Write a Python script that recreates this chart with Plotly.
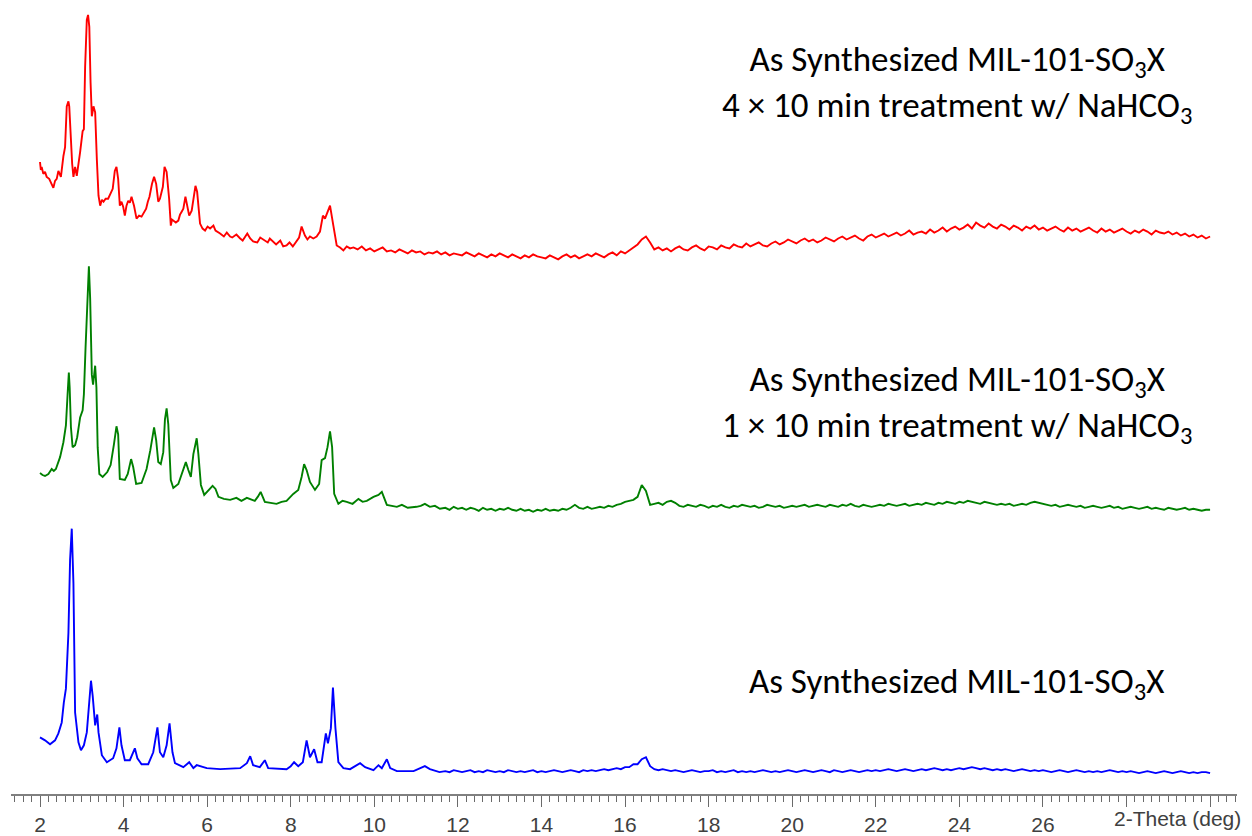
import plotly.graph_objects as go

# ---------------- data (2-Theta in degrees, intensity in arbitrary units) ----------------
TAIL_STEP = 0.1

# Blue: As Synthesized MIL-101-SO3X
BLUE_PEAK_X = [2.00, 2.12, 2.24, 2.36, 2.44, 2.52, 2.57, 2.62, 2.68, 2.72,
               2.76, 2.80, 2.84, 2.92, 2.98, 3.05, 3.12, 3.17, 3.22, 3.26,
               3.32, 3.37, 3.40, 3.48, 3.60, 3.75, 3.83, 3.90, 3.95, 4.03,
               4.15, 4.27, 4.33, 4.43, 4.59, 4.71, 4.81, 4.87, 4.95, 5.03,
               5.10, 5.17, 5.23, 5.43, 5.57, 5.67, 5.75, 5.99, 6.31, 6.79,
               6.95, 7.03, 7.10, 7.26, 7.38, 7.46, 7.90, 8.00, 8.08, 8.18,
               8.29, 8.38, 8.46, 8.56, 8.64, 8.74, 8.80, 8.84, 8.89, 8.96,
               9.01, 9.07, 9.14, 9.26, 9.42, 9.66, 9.78, 9.98, 10.10, 10.18,
               10.30, 10.38, 10.54, 10.94, 11.21, 11.33, 11.56]
BLUE_PEAK_I = [57, 54, 50, 54, 61, 72, 92, 106, 162, 236,
               267, 212, 82, 52, 44, 49, 62, 86, 114, 99,
               69, 80, 62, 39, 32, 36, 46, 67, 49, 34,
               34, 46, 36, 30, 30, 42, 67, 42, 37, 49,
               71, 42, 31, 27, 32, 26, 29, 26, 25, 26,
               31, 38, 29, 27, 34, 26, 25, 28, 32, 28,
               32, 54, 37, 45, 32, 32, 49, 61, 51, 66,
               107, 66, 32, 26, 25, 31, 27, 24, 29, 26,
               35, 26, 23, 23, 28, 25, 22]
BLUE_TAIL_START = 11.7
BLUE_TAIL_I = [23, 22, 24, 23, 22, 23, 24, 22, 23, 22,
               24, 23, 22, 23, 22, 24, 23, 22, 23, 22,
               23, 24, 22, 23, 22, 23, 24, 23, 22, 23,
               24, 23, 22, 24, 23, 24, 23, 24, 25, 24,
               25, 26, 25, 27,
               27, 30, 30, 35, 37, 28, 25, 24, 25, 24,
               23, 24, 23, 22, 23, 24, 23, 22, 23, 23,
               24, 22, 23, 22, 23, 24, 22, 23, 22, 23,
               22, 23, 24, 23, 22, 23, 22, 23, 24, 23,
               22, 23, 24, 23, 22, 23, 24, 23, 22, 24,
               23, 22, 23, 24, 23, 22, 23, 24, 23, 24,
               23, 24, 25, 24, 23, 24, 25, 24, 23, 24,
               25, 24, 25, 26, 25, 24, 25, 24, 25, 26,
               25, 26, 27, 26, 25, 26, 25, 24, 25, 24,
               25, 24, 23, 24, 25, 24, 23, 24, 23, 24,
               23, 22, 23, 24, 23, 22, 23, 24, 23, 22,
               23, 22, 23, 22, 23, 24, 23, 22, 23, 22,
               23, 22, 21, 22, 23, 22, 21, 22, 23, 22,
               21, 22, 23, 22, 21, 22, 21, 22, 22, 21]

# Green: 1 x 10 min treatment
GREEN_PEAK_X = [2.00, 2.06, 2.12, 2.20, 2.28, 2.33, 2.38, 2.48, 2.56, 2.62,
                2.66, 2.69, 2.71, 2.74, 2.78, 2.84, 2.89, 2.96, 3.02, 3.05,
                3.09, 3.14, 3.17, 3.20, 3.24, 3.27, 3.32, 3.35, 3.38, 3.42,
                3.50, 3.61, 3.69, 3.77, 3.83, 3.87, 3.91, 4.03, 4.10, 4.18,
                4.23, 4.30, 4.43, 4.55, 4.64, 4.73, 4.78, 4.83, 4.89, 4.95,
                4.99, 5.03, 5.07, 5.13, 5.19, 5.31, 5.41, 5.49, 5.55, 5.61,
                5.67, 5.75, 5.79, 5.85, 5.93, 6.03, 6.13, 6.20, 6.27, 6.40,
                6.55, 6.70, 6.82, 6.95, 7.05, 7.14, 7.21, 7.28, 7.38, 7.50,
                7.66, 7.78, 7.90, 8.06, 8.18, 8.26, 8.32, 8.38, 8.46, 8.58,
                8.68, 8.74, 8.82, 8.88, 8.94, 8.99, 9.04, 9.14, 9.24, 9.34,
                9.48, 9.62, 9.72, 9.82, 9.98, 10.10, 10.18, 10.30, 10.42, 10.54,
                10.66, 10.80, 11.01, 11.11, 11.21, 11.33, 11.45, 11.57]
GREEN_PEAK_I = [53, 51, 50, 52, 57, 55, 57, 69, 84, 101,
                132, 154, 139, 99, 79, 81, 89, 109, 116, 132,
                179, 239, 261, 229, 152, 142, 161, 139, 79, 52,
                49, 54, 61, 82, 100, 92, 47, 46, 52, 67,
                59, 42, 43, 57, 76, 99, 86, 64, 62, 74,
                107, 118, 102, 46, 38, 42, 54, 64, 56, 49,
                72, 88, 72, 41, 31, 35, 40, 37, 29, 27,
                26, 28, 25, 28, 26, 25, 29, 34, 24, 23,
                22, 24, 25, 32, 36, 49, 62, 56, 44, 36,
                42, 66, 68, 79, 95, 79, 32, 22, 25, 24,
                22, 27, 24, 25, 29, 31, 34, 21, 20, 19,
                21, 18, 19, 20, 22, 19, 20, 17]
GREEN_TAIL_START = 11.7
GREEN_TAIL_I = [18, 16, 19, 17, 18, 16, 18, 17, 15, 18,
                16, 17, 15, 17, 16, 18, 16, 15, 17, 15,
                16, 14, 16, 15, 17, 15, 16, 15, 17, 16,
                18, 21, 18, 17, 19, 17, 18, 19, 18, 20,
                19, 21, 22, 24,
                25, 26, 29, 41, 35, 21, 22, 23, 21, 24,
                25, 23, 20, 19, 21, 20, 19, 21, 20, 18,
                20, 19, 21, 19, 18, 20, 19, 21, 20, 19,
                20, 18, 19, 21, 20, 19, 20, 18, 19, 20,
                19, 20, 21, 19, 20, 21, 20, 19, 21, 20,
                19, 21, 20, 22, 20, 19, 21, 20, 19, 20,
                21, 20, 22, 21, 20, 21, 22, 20, 21, 22,
                21, 23, 22, 21, 23, 22, 24, 23, 22, 24,
                23, 25, 24, 23, 22, 24, 23, 22, 21, 22,
                21, 22, 20, 21, 22, 21, 23, 24, 23, 22,
                21, 20, 21, 19, 20, 21, 20, 19, 20, 18,
                19, 20, 19, 18, 19, 20, 18, 19, 17, 18,
                19, 18, 17, 18, 19, 17, 18, 17, 16, 18,
                17, 16, 17, 18, 16, 17, 16, 15, 16, 16]

# Red: 4 x 10 min treatment
RED_PEAK_X = [2.00, 2.02, 2.04, 2.08, 2.12, 2.16, 2.22, 2.27, 2.32, 2.36,
              2.40, 2.44, 2.47, 2.50, 2.56, 2.60, 2.64, 2.68, 2.70, 2.73,
              2.77, 2.80, 2.84, 2.88, 2.92, 2.96, 3.02, 3.05, 3.08, 3.12,
              3.15, 3.18, 3.21, 3.24, 3.28, 3.32, 3.36, 3.40, 3.44, 3.48,
              3.52, 3.57, 3.63, 3.69, 3.74, 3.79, 3.83, 3.87, 3.91, 3.95,
              3.99, 4.03, 4.07, 4.11, 4.15, 4.19, 4.25, 4.31, 4.37, 4.43,
              4.49, 4.54, 4.58, 4.62, 4.68, 4.73, 4.78, 4.83, 4.87, 4.94,
              4.98, 5.03, 5.09, 5.13, 5.16, 5.19, 5.25, 5.31, 5.35, 5.39,
              5.43, 5.48, 5.52, 5.57, 5.63, 5.69, 5.72, 5.76, 5.83, 5.89,
              5.95, 6.01, 6.07, 6.15, 6.20, 6.31, 6.40, 6.47, 6.55, 6.60,
              6.70, 6.79, 6.85, 6.96, 7.03, 7.10, 7.20, 7.27, 7.34, 7.45,
              7.50, 7.58, 7.65, 7.75, 7.82, 7.90, 7.97, 8.05, 8.14, 8.20,
              8.26, 8.34, 8.40, 8.46, 8.54, 8.62, 8.70, 8.77, 8.82, 8.88,
              8.94, 9.02, 9.10, 9.18, 9.26, 9.34, 9.42]
RED_PEAK_I = [116, 108, 111, 104, 106, 101, 99, 95, 90, 97,
              99, 107, 103, 101, 122, 131, 172, 177, 172, 139,
              114, 101, 111, 102, 112, 126, 147, 149, 212, 259,
              264, 252, 196, 162, 172, 166, 119, 82, 72, 78,
              76, 79, 79, 84, 89, 107, 111, 99, 72, 76,
              71, 62, 72, 77, 75, 81, 72, 59, 62, 61,
              66, 69, 76, 81, 94, 101, 94, 76, 79, 91,
              111, 106, 79, 52, 58, 57, 55, 57, 63, 66,
              69, 81, 71, 62, 67, 87, 92, 86, 54, 49,
              47, 51, 49, 52, 47, 44, 41, 45, 41, 40,
              43, 39, 37, 44, 39, 36, 35, 40, 38, 35,
              39, 36, 33, 37, 31, 32, 35, 31, 37, 40,
              51, 42, 38, 41, 39, 41, 46, 62, 59, 66,
              72, 52, 32, 30, 27, 31, 29]
RED_TAIL_START = 9.5
RED_TAIL_I = [30, 28, 31, 27, 29, 26, 28, 30, 26, 27,
              25, 28, 26, 24, 27, 25, 26, 23, 25, 24,
              26, 23, 25, 22, 24, 23,
              22, 25, 23, 21, 24, 22, 20, 23, 21, 24,
              22, 20, 23, 21, 19, 22, 20, 23, 21, 20,
              19, 22, 20, 18, 21, 23, 20, 22, 19, 21,
              23, 21, 24, 22, 20, 23, 25, 22, 26, 24,
              27, 30, 33, 38, 41, 35, 28, 30, 27, 29,
              26, 29, 31, 28, 27, 30, 32, 29, 27, 31,
              30, 28, 32, 30, 29, 33, 31, 30, 34, 31,
              33, 35, 32, 31, 34, 36, 33, 35, 38, 36,
              34, 37, 39, 36, 38, 35, 37, 40, 38, 36,
              39, 41, 38, 40, 42, 39, 37, 41, 43, 40,
              42, 44, 41, 43, 45, 42, 44, 47, 43, 45,
              46, 44, 48, 45, 47, 50, 46, 49, 51, 48,
              50, 53, 49, 55, 52, 50, 54, 51, 49, 53,
              51, 48, 52, 50, 47, 51, 49, 52, 48, 50,
              47, 49, 51, 48, 46, 50, 47, 49, 46, 48,
              50, 47, 45, 49, 46, 48, 45, 47, 49, 46,
              44, 47, 45, 48, 46, 43, 47, 45, 44, 46,
              43, 45, 42, 44, 41, 43, 40, 42, 39, 41]

# vertical stacking offsets of the three patterns
OFFSETS = {"blue": 0, "green": 270, "red": 520}

TICK_VALUES = [2, 4, 6, 8, 10, 12, 14, 16, 18, 20, 22, 24, 26, 28, 30]
TICK_LABELS = ["2", "4", "6", "8", "10", "12", "14", "16", "18", "20", "22", "24", "26", "", ""]

LABEL_RED = "As Synthesized MIL-101-SO<sub>3</sub>X<br>4 × 10 min treatment w/ NaHCO<sub>3</sub>"
LABEL_GREEN = "As Synthesized MIL-101-SO<sub>3</sub>X<br>1 × 10 min treatment w/ NaHCO<sub>3</sub>"
LABEL_BLUE = "As Synthesized MIL-101-SO<sub>3</sub>X"


def build(px, pi, start, tail, offset):
    n = min(len(px), len(pi))
    x = list(px[:n]) + [round(start + TAIL_STEP * i, 2) for i in range(len(tail))]
    y = [v + offset for v in list(pi[:n]) + list(tail)]
    return x, y


fig = go.Figure()
for name, color, (px, pi, st, tl) in [
    ("blue", "#0000FF", (BLUE_PEAK_X, BLUE_PEAK_I, BLUE_TAIL_START, BLUE_TAIL_I)),
    ("green", "#008000", (GREEN_PEAK_X, GREEN_PEAK_I, GREEN_TAIL_START, GREEN_TAIL_I)),
    ("red", "#FF0000", (RED_PEAK_X, RED_PEAK_I, RED_TAIL_START, RED_TAIL_I)),
]:
    x, y = build(px, pi, st, tl, OFFSETS[name])
    fig.add_trace(go.Scatter(x=x, y=y, mode="lines", name=name,
                             line=dict(color=color, width=1.9), showlegend=False,
                             hoverinfo="skip"))

label_font = dict(family="Carlito, Lato, sans-serif", size=35, color="#000000")
fig.add_annotation(x=23.94, y=714, xref="x", yref="y", text=LABEL_RED, showarrow=False,
                   font=label_font, align="center", xanchor="center", yanchor="middle")
fig.add_annotation(x=23.94, y=392, xref="x", yref="y", text=LABEL_GREEN, showarrow=False,
                   font=label_font, align="center", xanchor="center", yanchor="middle")
fig.add_annotation(x=23.94, y=111, xref="x", yref="y", text=LABEL_BLUE, showarrow=False,
                   font=label_font, align="center", xanchor="center", yanchor="middle")
fig.add_annotation(x=1.0049, y=-0.031, xref="paper", yref="paper", text="2-Theta (deg)",
                   showarrow=False, xanchor="right", yanchor="middle",
                   font=dict(family="Liberation Sans, Arial, sans-serif", size=21, color="#404040"))

fig.update_layout(
    width=1252, height=836,
    margin=dict(l=11, r=15, t=0, b=37, pad=0),
    paper_bgcolor="white", plot_bgcolor="white",
    xaxis=dict(range=[1.306, 30.644], showgrid=False, zeroline=False,
               showline=True, linecolor="#808080", linewidth=1.5,
               ticks="outside", ticklen=11, tickwidth=1.3, tickcolor="#6a6a6a",
               tickmode="array", tickvals=TICK_VALUES, ticktext=TICK_LABELS,
               tickfont=dict(family="Liberation Sans, Arial, sans-serif", size=21, color="#404040"),
               minor=dict(tickmode="linear", tick0=0, dtick=0.2, ticks="outside",
                          ticklen=6, tickwidth=1.3, tickcolor="#6a6a6a", showgrid=False)),
    yaxis=dict(range=[0, 799], visible=False, showgrid=False, zeroline=False),
)

fig.write_html("out.html")
